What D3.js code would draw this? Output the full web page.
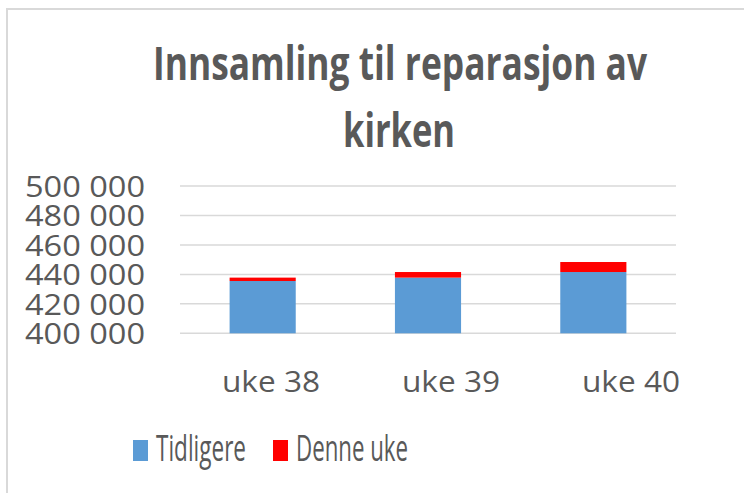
<!DOCTYPE html>
<html lang="no">

<head>
    <meta charset="UTF-8" />
    <title>Innsamling til reparasjon av kirken</title>
    <style>
        body { margin: 0; background: #fff; }
        text { font-family: "Open Sans", sans-serif; fill: #595959; }
    </style>
</head>

<body>
    <svg id="chart" width="744" height="493"></svg>

    <script src="https://d3js.org/d3.v7.min.js"></script>
    <script>
        const categories = ['uke 38', 'uke 39', 'uke 40'];
        const tidligere = [435500, 437800, 441600];
        const denneUke = [2300, 3800, 6800];
        const yTicks = [400000, 420000, 440000, 460000, 480000, 500000];
        const seriesNames = ['Tidligere', 'Denne uke'];
        const colors = ['#5b9bd5', '#ff0000'];

        const svg = d3.select('#chart');
        const fmt = d3.formatLocale({ decimal: ',', thousands: ' ', grouping: [3], currency: ['', ''] }).format(',d');

        // chart frame (cut off at right and bottom like the screenshot)
        svg.append('rect')
            .attr('x', 7).attr('y', 9)
            .attr('width', 800).attr('height', 600)
            .attr('fill', 'none')
            .attr('stroke', '#d9d9d9')
            .attr('stroke-width', 2);

        // title
        const title = svg.append('g');
        title.append('text')
            .attr('x', 153).attr('y', 80)
            .attr('font-size', 46).attr('font-weight', 'bold')
            .attr('textLength', 494).attr('lengthAdjust', 'spacingAndGlyphs')
            .text('Innsamling til reparasjon av');
        title.append('text')
            .attr('x', 343).attr('y', 147)
            .attr('font-size', 46).attr('font-weight', 'bold')
            .attr('textLength', 112).attr('lengthAdjust', 'spacingAndGlyphs')
            .text('kirken');

        const x = d3.scaleBand()
            .domain(categories)
            .range([180, 676])
            .paddingInner(0.6)
            .paddingOuter(0.3);

        // category labels sit a bit wider apart than the bars in the picture
        const xLabel = d3.scalePoint()
            .domain(categories)
            .range([271, 631]);

        const y = d3.scaleLinear()
            .domain([400000, 500000])
            .range([333.3, 186]);

        // gridlines
        svg.append('g')
            .selectAll('line')
            .data(yTicks)
            .join('line')
            .attr('x1', 180).attr('x2', 676)
            .attr('y1', d => y(d)).attr('y2', d => y(d))
            .attr('stroke', '#d9d9d9')
            .attr('stroke-width', 1.5);

        // y tick labels
        svg.append('g')
            .selectAll('text')
            .data(yTicks)
            .join('text')
            .attr('x', 25)
            .attr('y', d => y(d) + 11)
            .attr('font-size', 30)
            .attr('textLength', 120).attr('lengthAdjust', 'spacingAndGlyphs')
            .text(d => fmt(d));

        // stacked bars
        const rows = categories.map((c, i) => ({ cat: c, Tidligere: tidligere[i], 'Denne uke': denneUke[i] }));
        const stack = d3.stack().keys(seriesNames)(rows);
        const clampY = v => y(Math.max(v, 400000));

        svg.append('g')
            .selectAll('g')
            .data(stack)
            .join('g')
            .attr('fill', (d, i) => colors[i])
            .selectAll('rect')
            .data(d => d)
            .join('rect')
            .attr('x', d => x(d.data.cat))
            .attr('width', x.bandwidth())
            .attr('y', d => clampY(d[1]))
            .attr('height', d => clampY(d[0]) - clampY(d[1]));

        // x labels
        svg.append('g')
            .selectAll('text')
            .data(categories)
            .join('text')
            .attr('x', d => xLabel(d) - 49)
            .attr('y', 392)
            .attr('font-size', 30)
            .attr('textLength', 98).attr('lengthAdjust', 'spacingAndGlyphs')
            .text(d => d);

        // legend
        const legendX = [133, 273];
        const legendW = [90, 112];
        const legend = svg.append('g')
            .selectAll('g')
            .data(seriesNames)
            .join('g')
            .attr('transform', (d, i) => `translate(${legendX[i]}, 440)`);
        legend.append('rect')
            .attr('width', 15).attr('height', 21)
            .attr('fill', (d, i) => colors[i]);
        legend.append('text')
            .attr('x', 23).attr('y', 21)
            .attr('font-size', 37)
            .attr('textLength', (d, i) => legendW[i]).attr('lengthAdjust', 'spacingAndGlyphs')
            .text(d => d);
    </script>
</body>

</html>
